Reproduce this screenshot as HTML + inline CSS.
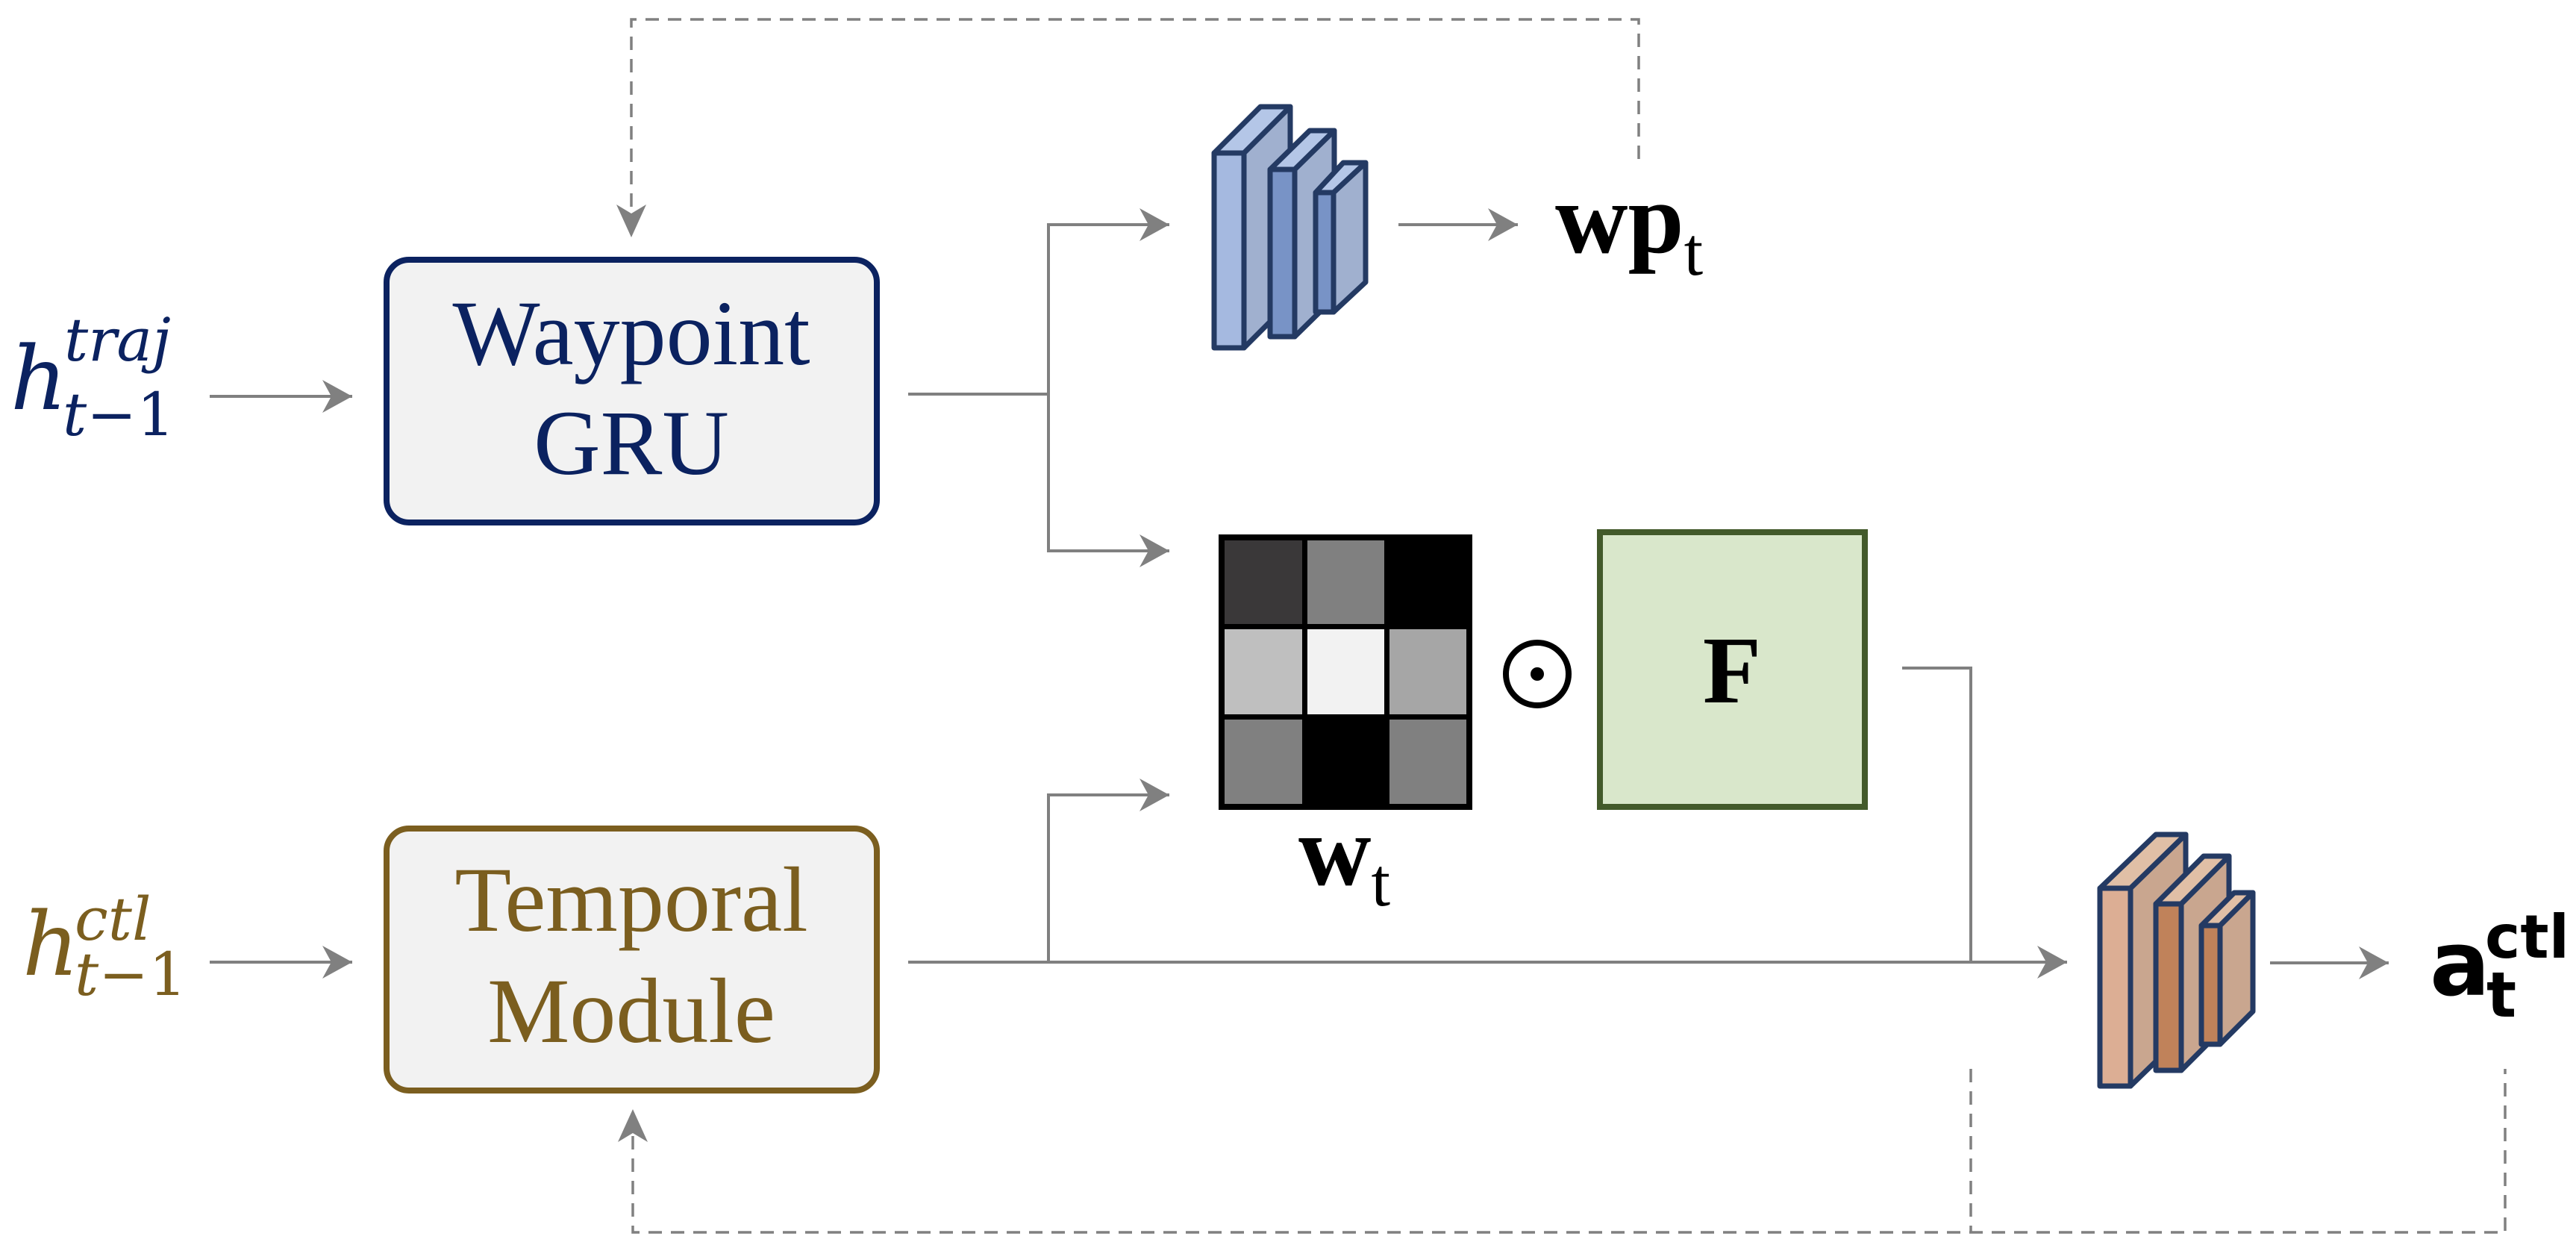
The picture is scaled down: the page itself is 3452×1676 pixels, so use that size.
<!DOCTYPE html>
<html><head><meta charset="utf-8"><style>
html,body{margin:0;padding:0;background:#fff;}
svg{display:block;}
</style></head><body>
<svg width="3452" height="1676" viewBox="0 0 3452 1676" xmlns="http://www.w3.org/2000/svg">
<defs>
<marker id="ah" markerWidth="44" markerHeight="44" refX="40" refY="22" orient="auto" markerUnits="userSpaceOnUse">
<path d="M0,0 L40,22 L0,44 L12,22 Z" fill="#808080"/>
</marker>
</defs>
<g fill="none" stroke="#808080" stroke-width="4">
<line x1="281" y1="531" x2="472" y2="531" marker-end="url(#ah)"/>
<line x1="281" y1="1289" x2="472" y2="1289" marker-end="url(#ah)"/>
<polyline points="1217,528 1405,528"/>
<polyline points="1405,738 1405,301 1567,301" marker-end="url(#ah)"/>
<polyline points="1405,528 1405,738 1567,738" marker-end="url(#ah)"/>
<line x1="1874" y1="301" x2="2034" y2="301" marker-end="url(#ah)"/>
<line x1="1217" y1="1289" x2="2770" y2="1289" marker-end="url(#ah)"/>
<polyline points="1405,1289 1405,1065 1567,1065" marker-end="url(#ah)"/>
<polyline points="2549,895 2641,895 2641,1289"/>
<line x1="3042" y1="1290" x2="3201" y2="1290" marker-end="url(#ah)"/>
</g>
<g fill="none" stroke="#808080" stroke-width="3.5" stroke-dasharray="18,12">
<polyline points="2196,213 2196,26 846,26 846,312"/>
<polyline points="848,1492 848,1651 3357,1651 3357,1432"/>
<line x1="2641" y1="1432" x2="2641" y2="1651"/>
</g>
<path d="M826,274 L846,318 L866,274 L846,286 Z" fill="#808080"/>
<path d="M828,1530 L848,1486 L868,1530 L848,1518 Z" fill="#808080"/>

<rect x="518" y="348" width="657" height="352" rx="30" fill="#f2f2f2" stroke="#0b2260" stroke-width="8"/>
<rect x="518" y="1110" width="657" height="351" rx="30" fill="#f2f2f2" stroke="#7b5e1f" stroke-width="8"/>
<g font-family="'Liberation Serif',serif" font-size="124" text-anchor="middle">
<text x="846" y="488" fill="#0b2260">Waypoint</text>
<text x="846" y="635" fill="#0b2260">GRU</text>
<text x="846" y="1247" fill="#7b5e1f">Temporal</text>
<text x="846" y="1396" fill="#7b5e1f">Module</text>
</g>
<g font-family="'DejaVu Serif','Liberation Serif',serif" font-style="italic">
<text x="14" y="548" font-size="118" fill="#0b2260">h</text>
<text x="86" y="483" font-size="80" fill="#0b2260">traj</text>
<text x="84" y="583" font-size="80" fill="#0b2260">t<tspan font-style="normal">−1</tspan></text>
<text x="30" y="1306" font-size="118" fill="#7b5e1f">h</text>
<text x="100" y="1259" font-size="80" fill="#7b5e1f">ctl</text>
<text x="100" y="1333" font-size="80" fill="#7b5e1f">t<tspan font-style="normal">−1</tspan></text>
</g>

<g stroke="#243a63" stroke-width="7" stroke-linejoin="round">
<polygon points="1627,205 1689,143 1729,143 1667,205" fill="#b4c6e7"/>
<polygon points="1667,205 1729,143 1729,404 1667,466" fill="#a0b0cf"/>
<rect x="1627" y="205" width="40" height="261" fill="#a5b9e0"/>
<polygon points="1702,227 1755,175 1788,175 1735,227" fill="#b4c6e7"/>
<polygon points="1735,227 1788,175 1788,399 1735,451" fill="#a0b0cf"/>
<rect x="1702" y="227" width="33" height="224" fill="#7893c6"/>
<polygon points="1763,258 1800,218 1830,218 1787,258" fill="#b4c6e7"/>
<polygon points="1787,258 1830,218 1830,378 1787,418" fill="#a0b0cf"/>
<rect x="1763" y="258" width="24" height="160" fill="#7893c6"/>
</g>
<g stroke="#243a63" stroke-width="7" stroke-linejoin="round">
<polygon points="2814,1190 2889,1118 2929,1118 2855,1190" fill="#e0bfa6"/>
<polygon points="2855,1190 2929,1118 2929,1383 2855,1455" fill="#c9a68f"/>
<rect x="2814" y="1190" width="41" height="265" fill="#dcae94"/>
<polygon points="2889,1211 2953,1147 2987,1147 2923,1211" fill="#e0bfa6"/>
<polygon points="2923,1211 2987,1147 2987,1370 2923,1434" fill="#c9a68f"/>
<rect x="2889" y="1211" width="34" height="223" fill="#c0825a"/>
<polygon points="2950,1240 2994,1196 3019,1196 2975,1240" fill="#e0bfa6"/>
<polygon points="2975,1240 3019,1196 3019,1355 2975,1399" fill="#c9a68f"/>
<rect x="2950" y="1240" width="25" height="159" fill="#c0825a"/>
</g>

<rect x="1633" y="716" width="340" height="369" fill="#000"/>
<rect x="1641" y="724" width="104" height="112" fill="#3a3839"/>
<rect x="1752" y="724" width="103" height="112" fill="#808080"/>
<rect x="1862" y="724" width="103" height="112" fill="#000"/>
<rect x="1641" y="843" width="104" height="114" fill="#bfbfbf"/>
<rect x="1752" y="843" width="103" height="114" fill="#f2f2f2"/>
<rect x="1862" y="843" width="103" height="114" fill="#a6a6a6"/>
<rect x="1641" y="964" width="104" height="113" fill="#808080"/>
<rect x="1752" y="964" width="103" height="113" fill="#000"/>
<rect x="1862" y="964" width="103" height="113" fill="#808080"/>
<circle cx="2060" cy="903" r="42" fill="none" stroke="#000" stroke-width="8"/>
<circle cx="2060" cy="903" r="9" fill="#000"/>
<rect x="2144" y="713" width="355" height="368" fill="#d9e7cb" stroke="#435a2b" stroke-width="8"/>
<text x="2321" y="941" font-family="'Liberation Serif',serif" font-weight="bold" font-size="128" text-anchor="middle" fill="#000">F</text>

<g font-family="'Liberation Serif',serif" fill="#000">
<text x="2084" y="338" font-size="135" font-weight="bold">wp<tspan font-weight="normal" font-size="92" dy="30">t</tspan></text>
<text x="1740" y="1185" font-size="135" font-weight="bold">w<tspan font-weight="normal" font-size="92" dy="28">t</tspan></text>
</g>
<g font-family="'DejaVu Sans','Liberation Sans',sans-serif" font-weight="bold" fill="#000">
<text x="3256" y="1333" font-size="120">a</text>
<text x="3330" y="1283" font-size="80">ctl</text>
<text x="3332" y="1362" font-size="84">t</text>
</g>
</svg>
</body></html>
